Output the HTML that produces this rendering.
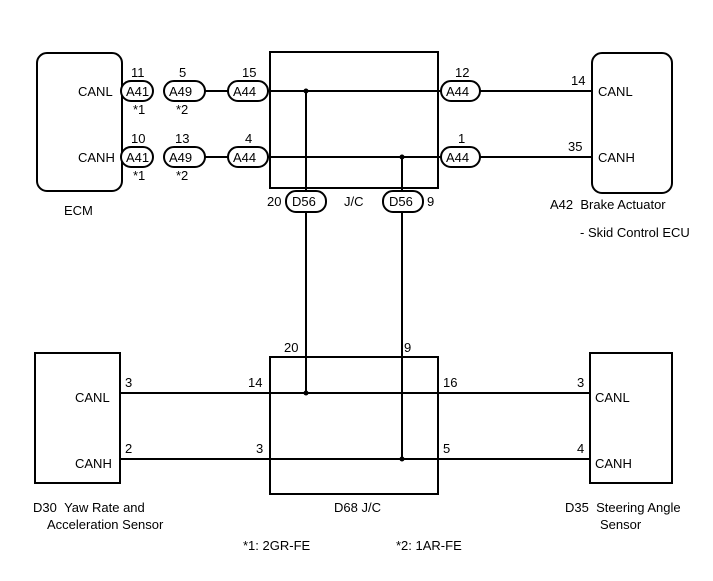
<!DOCTYPE html>
<html><head><meta charset="utf-8"><style>
html,body{margin:0;padding:0;background:#fff;}
svg{display:block;}
text{font-family:"Liberation Sans",Arial,sans-serif;font-size:13px;fill:#000;}
</style></head><body>
<svg width="713" height="581" viewBox="0 0 713 581" xmlns="http://www.w3.org/2000/svg">
<g fill="none" stroke="#000" stroke-width="2">
<!-- ECM -->
<rect x="37" y="53" width="85" height="138" rx="10"/>
<!-- J/C top -->
<rect x="270" y="52" width="168" height="136"/>
<!-- Brake -->
<rect x="592" y="53" width="80" height="140" rx="10"/>
<!-- wires top -->
<line x1="205" y1="91" x2="228" y2="91"/>
<line x1="268" y1="91" x2="441" y2="91"/>
<line x1="480" y1="91" x2="592" y2="91"/>
<line x1="205" y1="157" x2="228" y2="157"/>
<line x1="268" y1="157" x2="441" y2="157"/>
<line x1="480" y1="157" x2="592" y2="157"/>
<!-- verticals -->
<line x1="306" y1="91" x2="306" y2="393"/>
<line x1="402" y1="157" x2="402" y2="459"/>
<!-- connectors -->
<rect x="121" y="81" width="32" height="20" rx="10" fill="#fff"/>
<rect x="164" y="81" width="41" height="20" rx="10" fill="#fff"/>
<rect x="228" y="81" width="40" height="20" rx="10" fill="#fff"/>
<rect x="441" y="81" width="39" height="20" rx="10" fill="#fff"/>
<rect x="121" y="147" width="32" height="20" rx="10" fill="#fff"/>
<rect x="164" y="147" width="41" height="20" rx="10" fill="#fff"/>
<rect x="228" y="147" width="40" height="20" rx="10" fill="#fff"/>
<rect x="441" y="147" width="39" height="20" rx="10" fill="#fff"/>
<rect x="286" y="191" width="40" height="21" rx="10" fill="#fff"/>
<rect x="383" y="191" width="40" height="21" rx="10" fill="#fff"/>
<!-- bottom -->
<rect x="35" y="353" width="85" height="130"/>
<rect x="270" y="357" width="168" height="137"/>
<rect x="590" y="353" width="82" height="130"/>
<line x1="120" y1="393" x2="590" y2="393"/>
<line x1="120" y1="459" x2="590" y2="459"/>
</g>
<g fill="#000">
<circle cx="306" cy="91" r="2.5"/><circle cx="402" cy="157" r="2.5"/>
<circle cx="306" cy="393" r="2.5"/><circle cx="402" cy="459" r="2.5"/>
</g>
<text x="78" y="96">CANL</text>
<text x="78" y="162">CANH</text>
<text x="64" y="215">ECM</text>
<text x="126" y="96">A41</text><text x="169" y="96">A49</text><text x="233" y="96">A44</text><text x="446" y="96">A44</text>
<text x="126" y="162">A41</text><text x="169" y="162">A49</text><text x="233" y="162">A44</text><text x="446" y="162">A44</text>
<text x="131" y="77">11</text><text x="179" y="77">5</text><text x="242" y="77">15</text><text x="455" y="77">12</text>
<text x="131" y="143">10</text><text x="175" y="143">13</text><text x="245" y="143">4</text><text x="458" y="143">1</text>
<text x="133" y="114">*1</text><text x="176" y="114">*2</text>
<text x="133" y="180">*1</text><text x="176" y="180">*2</text>
<text x="292" y="206">D56</text><text x="389" y="206">D56</text>
<text x="267" y="206">20</text><text x="427" y="206">9</text>
<text x="344" y="206">J/C</text>
<text x="571" y="85">14</text><text x="598" y="96">CANL</text>
<text x="568" y="151">35</text><text x="598" y="162">CANH</text>
<text x="550" y="209">A42&#160;&#160;Brake Actuator</text>
<text x="580" y="237">- Skid Control ECU</text>
<text x="284" y="352">20</text><text x="404" y="352">9</text>
<text x="125" y="387">3</text><text x="75" y="402">CANL</text>
<text x="125" y="453">2</text><text x="75" y="468">CANH</text>
<text x="248" y="387">14</text><text x="256" y="453">3</text>
<text x="443" y="387">16</text><text x="443" y="453">5</text>
<text x="577" y="387">3</text><text x="577" y="453">4</text>
<text x="595" y="402">CANL</text><text x="595" y="468">CANH</text>
<text x="33" y="512">D30&#160;&#160;Yaw Rate and</text>
<text x="47" y="529">Acceleration Sensor</text>
<text x="334" y="512">D68 J/C</text>
<text x="565" y="512">D35&#160;&#160;Steering Angle</text>
<text x="600" y="529">Sensor</text>
<text x="243" y="550">*1: 2GR-FE</text>
<text x="396" y="550">*2: 1AR-FE</text>
</svg>
</body></html>
